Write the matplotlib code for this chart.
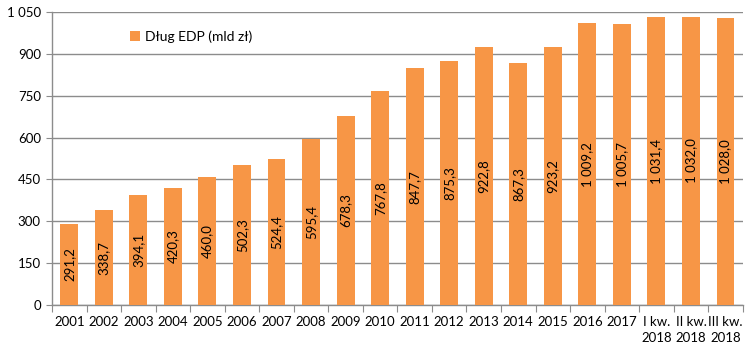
import matplotlib
matplotlib.use("Agg")
import matplotlib.pyplot as plt
from matplotlib.ticker import FixedLocator, NullFormatter
import numpy as np

categories = ["2001", "2002", "2003", "2004", "2005", "2006", "2007", "2008", "2009",
              "2010", "2011", "2012", "2013", "2014", "2015", "2016", "2017",
              "I kw.\n2018", "II kw.\n2018", "III kw.\n2018"]
values = [291.2, 338.7, 394.1, 420.3, 460.0, 502.3, 524.4, 595.4, 678.3,
          767.8, 847.7, 875.3, 922.8, 867.3, 923.2, 1009.2, 1005.7,
          1031.4, 1032.0, 1028.0]
yticks = [0, 150, 300, 450, 600, 750, 900, 1050]
series_name = "Dług EDP (mld zł)"

plt.rcParams['font.family'] = ['Lato', 'DejaVu Sans']

def fmt(v, dec=1):
    s = f"{v:,.{dec}f}"
    s = s.replace(",", " ").replace(".", ",")
    return s

fig = plt.figure(figsize=(7.48, 3.5), dpi=100)
ax = fig.add_axes([0.0695, 0.1286, 0.9235, 0.8371])

x = np.arange(len(categories))
color = "#F79646"
bars = ax.bar(x, values, width=0.52, color=color, label=series_name, zorder=3)

for xi, v in zip(x, values):
    ax.text(xi, v / 2, fmt(v), rotation=90, ha="center", va="center",
            fontsize=9.5, color="#000000", zorder=4)

ax.set_xlim(-0.5, len(categories) - 0.5)
ax.set_ylim(0, 1050)
ax.set_yticks(yticks)
ax.set_yticklabels([fmt(t, 0) for t in yticks], fontsize=9.5)
ax.yaxis.grid(True, color="#8c8c8c", linewidth=1.0, zorder=0)
ax.set_axisbelow(True)

ax.xaxis.set_major_locator(FixedLocator(np.arange(-0.5, len(categories), 1.0)))
ax.xaxis.set_major_formatter(NullFormatter())
ax.xaxis.set_minor_locator(FixedLocator(x))
ax.set_xticklabels(categories, minor=True, fontsize=9.5, linespacing=1.35)
ax.tick_params(axis="x", which="minor", length=0, pad=8)
ax.tick_params(axis="x", which="major", length=5, color="#8c8c8c", direction="out")
ax.tick_params(axis="y", length=4, color="#8c8c8c", direction="out", pad=4)
for lbl in ax.get_xticklabels(minor=True):
    lbl.set_verticalalignment("top")

for s in ["top", "right"]:
    ax.spines[s].set_visible(False)
for s in ["left", "bottom"]:
    ax.spines[s].set_color("#8c8c8c")
    ax.spines[s].set_linewidth(1.0)

leg = ax.legend(loc="upper left", bbox_to_anchor=(0.095, 0.98), frameon=False,
                fontsize=10, handlelength=0.7, handleheight=0.7, handletextpad=0.4)

fig.savefig("out.png", dpi=100)
